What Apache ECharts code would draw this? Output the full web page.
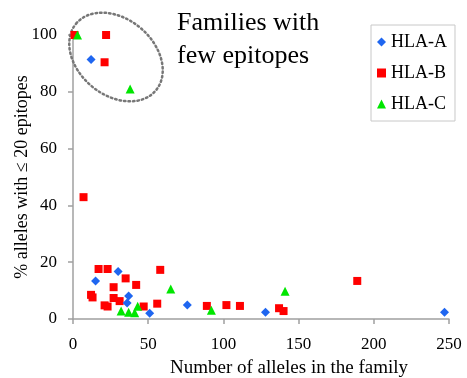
<!DOCTYPE html>
<html>
<head>
<meta charset="utf-8">
<script src="https://cdn.jsdelivr.net/npm/echarts@6/dist/echarts.min.js"></script>
<style>
  html, body { margin: 0; padding: 0; background: #fff; }
  #chart { width: 467px; height: 378px; }
</style>
</head>
<body>
<div id="chart"></div>
<script>
// Number of alleles in each family (x) and % of alleles with <= 20 epitopes (y)
const hlaA_x = [12, 30, 15, 37, 36, 51, 76, 128, 247];
const hlaA_y = [91.4, 16.7, 13.4, 8.1, 5.6, 2.0, 4.9, 2.4, 2.4];

const hlaB_x = [1, 22, 21, 7, 17, 23, 58, 35, 27, 42, 12, 13, 27, 31, 21, 23, 47, 56, 89, 102, 111, 137, 140, 189];
const hlaB_y = [100, 100, 90.4, 42.9, 17.6, 17.6, 17.3, 14.3, 11.2, 12, 8.5, 7.6, 7.4, 6.3, 4.8, 4.4, 4.4, 5.4, 4.6, 4.9, 4.6, 3.8, 2.8, 13.4];

const hlaC_x = [3, 38, 32, 37, 41, 43, 65, 92, 141];
const hlaC_y = [100, 81, 2.8, 2.4, 2.2, 4.5, 10.6, 3.1, 9.8];

const xTicks = [0, 50, 100, 150, 200, 250];
const yTicks = [0, 20, 40, 60, 80, 100];

const pairs = (xs, ys) => xs.map((x, i) => [x, ys[i]]);
const FONT = '"Liberation Serif", "DejaVu Serif", serif';

const chart = echarts.init(document.getElementById('chart'));
chart.setOption({
  animation: false,
  backgroundColor: '#fff',
  grid: { left: 73, right: 18, top: 35, bottom: 59, containLabel: false, outerBoundsMode: 'none' },
  xAxis: {
    type: 'value',
    min: xTicks[0], max: xTicks[xTicks.length - 1], interval: 50,
    name: 'Number of alleles in the family',
    nameLocation: 'middle', nameGap: 40, nameMoveOverlap: false,
    nameTextStyle: { fontFamily: FONT, fontSize: 19, color: '#000', padding: [0, 0, 0, 56] },
    axisLine: { show: true, lineStyle: { color: '#a0a0a0', width: 1.5 } },
    axisTick: { show: true, inside: false, length: 5, lineStyle: { color: '#a0a0a0', width: 1.5 } },
    axisLabel: { fontFamily: FONT, fontSize: 17, color: '#000', margin: 17 },
    splitLine: { show: false }
  },
  yAxis: {
    type: 'value',
    min: yTicks[0], max: yTicks[yTicks.length - 1], interval: 20,
    name: '% alleles with \u2264 20 epitopes',
    nameLocation: 'middle', nameGap: 42, nameRotate: 90, nameMoveOverlap: false,
    nameTextStyle: { fontFamily: FONT, fontSize: 18, color: '#000' },
    axisLine: { show: true, lineStyle: { color: '#a0a0a0', width: 1.5 } },
    axisTick: { show: true, inside: false, length: 5, lineStyle: { color: '#a0a0a0', width: 1.5 } },
    axisLabel: { fontFamily: FONT, fontSize: 17, color: '#000', margin: 16 },
    splitLine: { show: false }
  },
  legend: {
    orient: 'vertical',
    left: 371, top: 25,
    padding: [8, 8, 8, 6],
    itemGap: 13,
    itemWidth: 9, itemHeight: 9,
    backgroundColor: '#fff',
    borderColor: '#c8c8c8', borderWidth: 1,
    textStyle: { fontFamily: FONT, fontSize: 18, color: '#000' },
    data: [
      { name: 'HLA-A', icon: 'diamond' },
      { name: 'HLA-B', icon: 'rect' },
      { name: 'HLA-C', icon: 'triangle' }
    ]
  },
  graphic: [
    {
      type: 'text', left: 177, top: 7,
      style: { text: 'Families with\nfew epitopes', font: '26px ' + FONT, fill: '#000', lineHeight: 33 }
    },
    {
      type: 'ellipse',
      shape: { cx: 0, cy: 0, rx: 52, ry: 38 },
      x: 116, y: 57,
      rotation: -40 * Math.PI / 180,
      style: { fill: 'none', stroke: '#777', lineWidth: 2.5, lineDash: [1.5, 3], lineCap: 'round' },
      z: 1
    }
  ],
  series: [
    { name: 'HLA-A', type: 'scatter', symbol: 'diamond', symbolSize: 9,
      itemStyle: { color: '#1f66f0', opacity: 1 }, data: pairs(hlaA_x, hlaA_y), z: 3 },
    { name: 'HLA-B', type: 'scatter', symbol: 'rect', symbolSize: 8,
      itemStyle: { color: '#ff0000', opacity: 1 }, data: pairs(hlaB_x, hlaB_y), z: 2 },
    { name: 'HLA-C', type: 'scatter', symbol: 'triangle', symbolSize: 9,
      itemStyle: { color: '#00e600', opacity: 1 }, data: pairs(hlaC_x, hlaC_y), z: 4 }
  ]
});
</script>
</body>
</html>
